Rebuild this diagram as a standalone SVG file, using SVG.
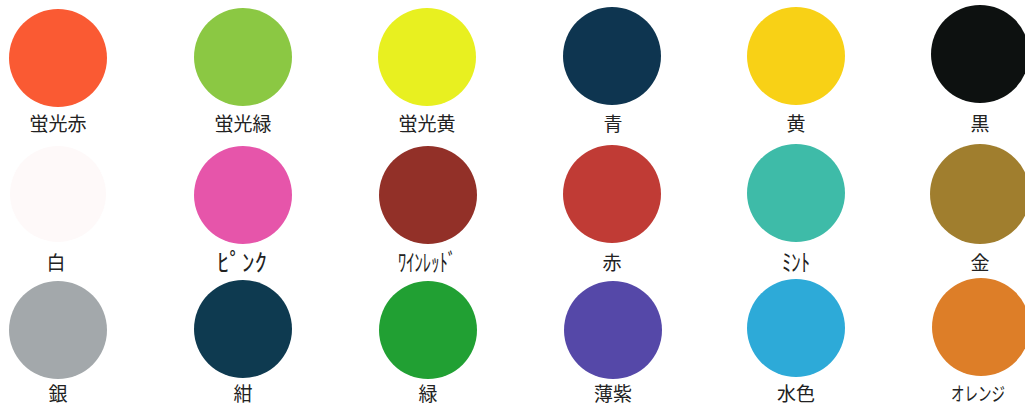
<svg xmlns="http://www.w3.org/2000/svg" width="1025" height="406" viewBox="0 0 1025 406">
<style>
text{font-family:"Noto Sans CJK JP","Noto Sans CJK SC",sans-serif;font-size:19px;fill:#222;text-anchor:middle}
.hw{font-size:24px}
</style>
<rect width="1025" height="406" fill="#ffffff"/>
<g id="c1"><circle cx="58" cy="58" r="49" fill="#FA5A33"/><text x="58" y="131">蛍光赤</text></g>
<g id="c2"><circle cx="243" cy="57" r="49" fill="#8BC843"/><text x="243" y="131">蛍光緑</text></g>
<g id="c3"><circle cx="427" cy="57" r="49" fill="#E8F020"/><text x="427" y="131">蛍光黄</text></g>
<g id="c4"><circle cx="612" cy="56" r="49" fill="#0E3550"/><text x="613" y="131">青</text></g>
<g id="c5"><circle cx="796" cy="56" r="49" fill="#F8D116"/><text x="796" y="131">黄</text></g>
<g id="c6"><circle cx="980" cy="54" r="49" fill="#0D1110"/><text x="980" y="131">黒</text></g>
<g id="c7"><circle cx="58" cy="194" r="48" fill="#FEF9F9"/><text x="56" y="270">白</text></g>
<g id="c8"><circle cx="243" cy="195" r="49" fill="#E655AA"/><text class="hw" x="242" y="271" textLength="50" lengthAdjust="spacingAndGlyphs">ﾋﾟﾝｸ</text></g>
<g id="c9"><circle cx="428" cy="195" r="49" fill="#923028"/><text class="hw" x="427" y="271" textLength="58" lengthAdjust="spacingAndGlyphs">ﾜｲﾝﾚｯﾄﾞ</text></g>
<g id="c10"><circle cx="612" cy="194" r="49" fill="#C03B35"/><text x="612" y="270">赤</text></g>
<g id="c11"><circle cx="796" cy="193" r="49" fill="#3EBBA8"/><text class="hw" x="796" y="271" textLength="28" lengthAdjust="spacingAndGlyphs">ﾐﾝﾄ</text></g>
<g id="c12"><circle cx="980" cy="194" r="50" fill="#A07E2E"/><text x="980" y="270">金</text></g>
<g id="c13"><circle cx="58" cy="330" r="49" fill="#A3A8AB"/><text x="58" y="401">銀</text></g>
<g id="c14"><circle cx="243" cy="329" r="49" fill="#0E3A50"/><text x="243" y="401">紺</text></g>
<g id="c15"><circle cx="428" cy="330" r="49" fill="#21A033"/><text x="428" y="401">緑</text></g>
<g id="c16"><circle cx="613" cy="330" r="49" fill="#5548A8"/><text x="613" y="401">薄紫</text></g>
<g id="c17"><circle cx="796" cy="328" r="49" fill="#2DAAD8"/><text x="796" y="401">水色</text></g>
<g id="c18"><circle cx="981" cy="327" r="49" fill="#DD7E28"/><text x="978" y="401" font-size="21" textLength="54" lengthAdjust="spacingAndGlyphs">オレンジ</text></g>
</svg>
